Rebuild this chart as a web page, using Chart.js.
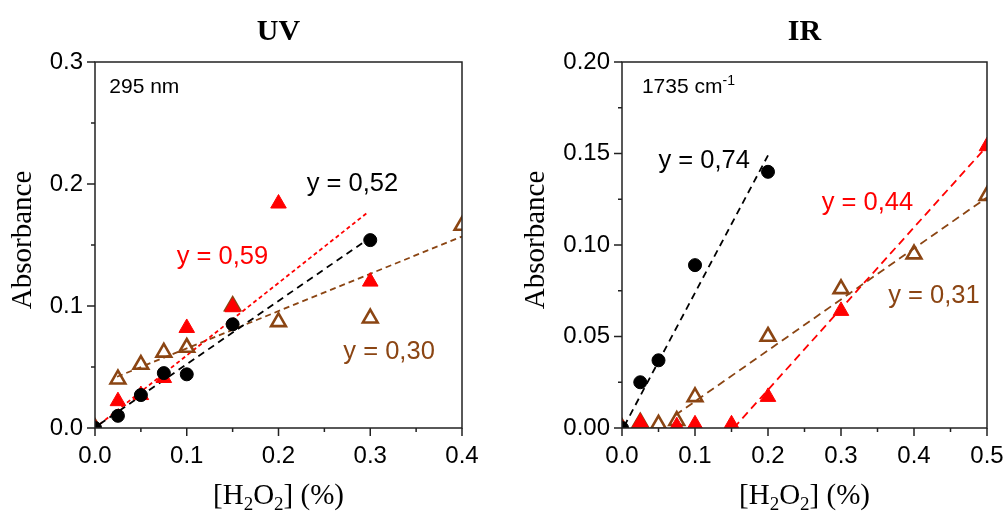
<!DOCTYPE html>
<html>
<head>
<meta charset="utf-8">
<script src="https://cdn.jsdelivr.net/npm/chart.js@4.4.0/dist/chart.umd.min.js"></script>
<style>
  html, body { margin: 0; padding: 0; background: #fff; }
  #wrap { position: relative; width: 1008px; height: 511px; }
  .box { position: absolute; top: 0; width: 504px; height: 511px; }
</style>
</head>
<body>
<div id="wrap">
  <div class="box" style="left:0"><canvas id="uv" width="504" height="511"></canvas></div>
  <div class="box" style="left:504px"><canvas id="ir" width="504" height="511"></canvas></div>
</div>
<script>
// ---- UV panel (295 nm) ----
const uvCircleX = [0, 0.025, 0.05, 0.075, 0.1, 0.15, 0.3];
const uvCircleY = [0, 0.010, 0.027, 0.045, 0.044, 0.085, 0.154];
const uvRedX = [0, 0.025, 0.05, 0.075, 0.1, 0.15, 0.2, 0.3];
const uvRedY = [0, 0.022, 0.027, 0.041, 0.082, 0.099, 0.184, 0.120];
const uvBrownX = [0, 0.025, 0.05, 0.075, 0.1, 0.15, 0.2, 0.3, 0.4];
const uvBrownY = [0, 0.040, 0.052, 0.062, 0.066, 0.100, 0.087, 0.090, 0.166];
// fitted lines, end points
const uvFitBlackX = [0.005, 0.296];
const uvFitBlackY = [0.003, 0.154];
const uvFitRedX = [0.005, 0.296];
const uvFitRedY = [0.003, 0.176];
const uvFitBrownX = [0.024, 0.4];
const uvFitBrownY = [0.042, 0.157];
const uvXTicks = ['0.0', '0.1', '0.2', '0.3', '0.4'];
const uvYTicks = ['0.0', '0.1', '0.2', '0.3'];

// ---- IR panel (1735 cm-1) ----
const irCircleX = [0, 0.025, 0.05, 0.1, 0.2];
const irCircleY = [0, 0.025, 0.037, 0.089, 0.140];
const irRedX = [0, 0.025, 0.075, 0.1, 0.15, 0.2, 0.3, 0.5];
const irRedY = [0, 0.003, 0.001, 0.002, 0.002, 0.017, 0.064, 0.154];
const irBrownX = [0, 0.025, 0.05, 0.075, 0.1, 0.2, 0.3, 0.4, 0.5];
const irBrownY = [0, 0.003, 0.002, 0.004, 0.017, 0.050, 0.076, 0.095, 0.127];
const irFitBlackX = [0.003, 0.2];
const irFitBlackY = [0.001, 0.149];
const irFitRedX = [0.153, 0.5];
const irFitRedY = [0, 0.154];
const irFitBrownX = [0.073, 0.5];
const irFitBrownY = [0.007, 0.126];
const irXTicks = ['0.0', '0.1', '0.2', '0.3', '0.4', '0.5'];
const irYTicks = ['0.00', '0.05', '0.10', '0.15', '0.20'];

const RED = '#ff0000';
const BROWN = '#8b4513';
const SANS = "'Liberation Sans', Arial, sans-serif";
const SERIF = "'Liberation Serif', 'Times New Roman', serif";

const pts = (xs, ys) => xs.map((x, i) => ({ x: x, y: ys[i] }));

const isMajor = (v, step) => Math.abs(v / step - Math.round(v / step)) < 1e-6;

const circles = (xs, ys) => ({
  data: pts(xs, ys), showLine: false, clip: 0,
  pointStyle: 'circle', pointRadius: 6.5,
  pointBackgroundColor: '#000', pointBorderColor: '#000', pointBorderWidth: 1
});
const filledTri = (xs, ys) => ({
  data: pts(xs, ys), showLine: false, clip: 0,
  pointStyle: 'triangle', pointRadius: 9,
  pointBackgroundColor: RED, pointBorderColor: RED, pointBorderWidth: 1
});
const openTri = (xs, ys) => ({
  data: pts(xs, ys), showLine: false, clip: 0,
  pointStyle: 'triangle', pointRadius: 8.5,
  pointBackgroundColor: 'rgba(0,0,0,0)', pointBorderColor: BROWN, pointBorderWidth: 2.6
});
const fit = (xs, ys, color, dash) => ({
  data: pts(xs, ys), showLine: true, clip: 0, pointRadius: 0,
  borderColor: color, borderWidth: 1.8, borderDash: dash
});

const panelDecor = {
  id: 'panelDecor',
  afterDraw(chart, args, o) {
    const { ctx, chartArea: a, scales } = chart;
    const sx = scales.x, sy = scales.y;
    ctx.save();
    ctx.strokeStyle = '#222';
    ctx.lineWidth = 1.5;
    ctx.strokeRect(a.left, a.top, a.right - a.left, a.bottom - a.top);
    ctx.beginPath();
    sx.ticks.forEach(t => {
      const p = sx.getPixelForValue(t.value);
      const len = isMajor(t.value, o.xMajor) ? 8 : 4;
      ctx.moveTo(p, a.bottom); ctx.lineTo(p, a.bottom + len);
    });
    sy.ticks.forEach(t => {
      const p = sy.getPixelForValue(t.value);
      const len = isMajor(t.value, o.yMajor) ? 8 : 4;
      ctx.moveTo(a.left, p); ctx.lineTo(a.left - len, p);
    });
    ctx.stroke();

    const cx = (a.left + a.right) / 2;
    // panel title
    ctx.fillStyle = '#000';
    ctx.textAlign = 'center';
    ctx.textBaseline = 'alphabetic';
    ctx.font = 'bold 30px ' + SERIF;
    ctx.fillText(o.title, cx, 40);

    // y title
    ctx.save();
    ctx.translate(a.left - o.yTitleGap, 240);
    ctx.rotate(-Math.PI / 2);
    ctx.font = '29px ' + SERIF;
    ctx.textBaseline = 'middle';
    ctx.fillText('Absorbance', 0, 0);
    ctx.restore();

    // x title with subscripts
    const parts = [['[H', 0], ['2', 1], ['O', 0], ['2', 1], ['] (%)', 0]];
    const big = '29px ' + SERIF, small = '19px ' + SERIF;
    let w = 0;
    parts.forEach(p => { ctx.font = p[1] ? small : big; w += ctx.measureText(p[0]).width; });
    let x = cx - w / 2;
    ctx.textAlign = 'left';
    parts.forEach(p => {
      ctx.font = p[1] ? small : big;
      ctx.fillText(p[0], x, p[1] ? 510 : 504);
      x += ctx.measureText(p[0]).width;
    });

    // notes
    o.notes.forEach(n => {
      const px = sx.getPixelForValue(n.x), py = sy.getPixelForValue(n.y);
      ctx.fillStyle = n.color;
      ctx.font = n.size + 'px ' + SANS;
      ctx.fillText(n.text, px, py);
      if (n.sup) {
        const tw = ctx.measureText(n.text).width;
        ctx.font = Math.round(n.size * 0.65) + 'px ' + SANS;
        ctx.fillText(n.sup, px + tw, py - 8);
      }
    });
    ctx.restore();
  }
};

function axis(min, max, step, major, labelDigits, pad, fixSize, horizontal) {
  return {
    type: 'linear', min: min, max: max,
    grid: { display: false, drawTicks: false },
    border: { display: false },
    ticks: {
      stepSize: step, autoSkip: false, maxRotation: 0, padding: pad,
      color: '#000', font: { family: SANS, size: 24 },
      callback: v => isMajor(v, major) ? Number(v).toFixed(labelDigits) : ''
    },
    afterFit: s => {
      if (horizontal) {
        s.height = fixSize;
        s.paddingLeft = 0;
        s.paddingRight = 0;
      } else {
        s.width = fixSize;
      }
    }
  };
}

function makePanel(id, datasets, xs, ys, pad, decor) {
  return new Chart(document.getElementById(id), {
    type: 'scatter',
    data: { datasets: datasets },
    options: {
      responsive: false, animation: false,
      layout: { padding: pad },
      plugins: { legend: { display: false }, tooltip: { enabled: false }, panelDecor: decor },
      scales: { x: xs, y: ys }
    },
    plugins: [panelDecor]
  });
}

makePanel('uv', [
  circles(uvCircleX, uvCircleY),
  filledTri(uvRedX, uvRedY),
  openTri(uvBrownX, uvBrownY),
  fit(uvFitBlackX, uvFitBlackY, '#000', [7, 5]),
  fit(uvFitRedX, uvFitRedY, RED, [4, 3]),
  fit(uvFitBrownX, uvFitBrownY, BROWN, [6, 4])
],
  axis(0, 0.4, 0.05, 0.1, 1, 14, 83, true),
  axis(0, 0.3, 0.05, 0.1, 1, 12, 95, false),
  { left: 0, top: 62, right: 42, bottom: 0 },
  {
    title: 'UV', xMajor: 0.1, yMajor: 0.1, yTitleGap: 72,
    notes: [
      { text: '295 nm', x: 0.0156, y: 0.2746, color: '#000', size: 21 },
      { text: 'y = 0,52', x: 0.2307, y: 0.1945, color: '#000', size: 25.5 },
      { text: 'y = 0,59', x: 0.089, y: 0.1347, color: RED, size: 25.5 },
      { text: 'y = 0,30', x: 0.2707, y: 0.0568, color: BROWN, size: 25.5 }
    ]
  });

makePanel('ir', [
  circles(irCircleX, irCircleY),
  filledTri(irRedX, irRedY),
  openTri(irBrownX, irBrownY),
  fit(irFitBlackX, irFitBlackY, '#000', [7, 5]),
  fit(irFitRedX, irFitRedY, RED, [8, 5]),
  fit(irFitBrownX, irFitBrownY, BROWN, [8, 5])
],
  axis(0, 0.5, 0.05, 0.1, 1, 14, 83, true),
  axis(0, 0.2, 0.025, 0.05, 2, 12, 118, false),
  { left: 0, top: 62, right: 21, bottom: 0 },
  {
    title: 'IR', xMajor: 0.1, yMajor: 0.05, yTitleGap: 86,
    notes: [
      { text: '1735 cm', sup: '-1', x: 0.0273, y: 0.1828, color: '#000', size: 21 },
      { text: 'y = 0,74', x: 0.050, y: 0.142, color: '#000', size: 25.5 },
      { text: 'y = 0,44', x: 0.2735, y: 0.1191, color: RED, size: 25.5 },
      { text: 'y = 0,31', x: 0.3646, y: 0.0682, color: BROWN, size: 25.5 }
    ]
  });
</script>
</body>
</html>
